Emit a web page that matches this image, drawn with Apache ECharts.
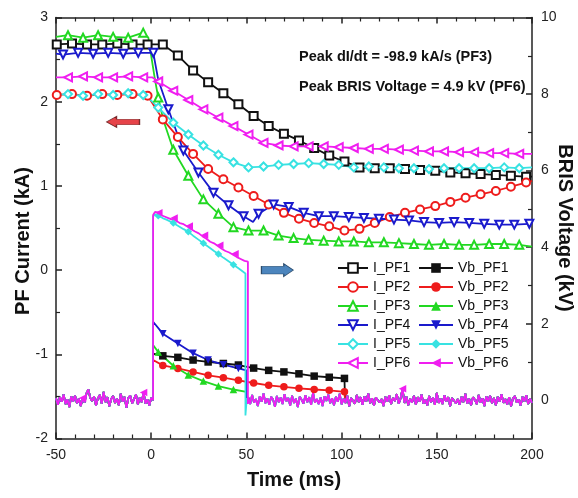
<!DOCTYPE html>
<html>
<head>
<meta charset="utf-8">
<script src="https://cdn.jsdelivr.net/npm/echarts@6/dist/echarts.min.js"></script>
<style>
  html, body { margin: 0; padding: 0; background: #fff; }
  #chart { width: 578px; height: 498px; }
</style>
</head>
<body>
<div id="chart"></div>
<script>
// ---- marker sample times (ms) ----
const tA = [-49.6, -41.6, -33.7, -25.7, -17.8, -9.8, -1.9, 6.1, 14.0, 22.0, 29.9, 37.9, 45.8, 53.8, 61.7, 69.7, 77.6, 85.6, 93.5, 101.5, 109.4, 117.4, 125.3, 133.3, 141.2, 149.2, 157.1, 165.1, 173.0, 181.0, 188.9, 196.9];
const tB = [-43.7, -35.8, -27.9, -20.0, -12.1, -4.2, 3.7, 11.6, 19.5, 27.4, 35.3, 43.2, 51.1, 59.0, 66.9, 74.8, 82.7, 90.6, 98.5, 106.4, 114.3, 122.2, 130.1, 138.0, 145.9, 153.8, 161.7, 169.6, 177.5, 185.4, 193.3];
const tC = [-46.3, -38.4, -30.5, -22.6, -14.7, -6.8, 1.1, 9.0, 16.9, 24.8, 32.7, 40.6, 48.5, 56.4, 64.3, 72.2, 80.1, 88.0, 95.9, 103.8, 111.7, 119.6, 127.5, 135.4, 143.3, 151.2, 159.1, 167.0, 174.9, 182.8, 190.7, 198.6];
const tMag = [4, 12, 20, 28, 36, 44];
const tMagBase = [-36, -4, 132];

// ---- PF coil currents (kA) : [time ms, current] ----
const iPF1 = [[-50,2.68],[-49.6,2.68],[-41.6,2.69],[-33.7,2.68],[-25.7,2.68],[-17.8,2.69],[-9.8,2.68],[-1.9,2.68],[6.1,2.68],[14.0,2.55],[22.0,2.37],[29.9,2.23],[37.9,2.10],[45.8,1.97],[53.8,1.83],[61.7,1.71],[69.7,1.62],[77.6,1.54],[85.6,1.45],[93.5,1.36],[101.5,1.29],[109.4,1.22],[117.4,1.21],[125.3,1.21],[133.3,1.20],[141.2,1.19],[149.2,1.18],[157.1,1.16],[165.1,1.15],[173.0,1.14],[181.0,1.13],[188.9,1.12],[196.9,1.11],[200,1.11]];
const iPF2 = [[-50,2.08],[-49.6,2.08],[-41.6,2.09],[-33.7,2.07],[-25.7,2.09],[-17.8,2.08],[-9.8,2.09],[-1.9,2.07],[6.1,1.79],[14.0,1.58],[22.0,1.38],[29.9,1.20],[37.9,1.08],[45.8,0.98],[53.8,0.88],[61.7,0.78],[69.7,0.68],[77.6,0.61],[85.6,0.56],[93.5,0.52],[101.5,0.47],[109.4,0.49],[117.4,0.56],[125.3,0.63],[133.3,0.68],[141.2,0.72],[149.2,0.76],[157.1,0.81],[165.1,0.86],[173.0,0.90],[181.0,0.94],[188.9,0.99],[196.9,1.04],[200,1.06]];
const iPF3 = [[-50,2.77],[-43.7,2.79],[-35.8,2.76],[-27.9,2.79],[-20.0,2.77],[-12.1,2.76],[-4.2,2.82],[-1.5,2.76],[2.0,2.26],[3.7,2.05],[6.4,1.78],[11.6,1.43],[19.5,1.12],[27.4,0.84],[35.3,0.67],[43.2,0.51],[51.1,0.47],[59.0,0.47],[66.9,0.41],[74.8,0.38],[82.7,0.36],[90.6,0.35],[98.5,0.34],[106.4,0.34],[114.3,0.33],[122.2,0.33],[130.1,0.32],[138.0,0.31],[145.9,0.30],[153.8,0.31],[161.7,0.30],[169.6,0.30],[177.5,0.31],[185.4,0.31],[193.3,0.30],[200,0.28]];
const iPF4 = [[-50,2.57],[-46.3,2.56],[-38.4,2.58],[-30.5,2.57],[-22.6,2.58],[-14.7,2.57],[-6.8,2.58],[1.1,2.58],[3.7,2.26],[9.0,1.91],[16.9,1.42],[24.8,1.16],[32.7,0.92],[40.6,0.77],[48.5,0.64],[53.5,0.57],[56.4,0.67],[64.3,0.78],[72.2,0.75],[80.1,0.68],[88.0,0.64],[95.9,0.64],[103.8,0.63],[111.7,0.62],[119.6,0.61],[127.5,0.60],[135.4,0.59],[143.3,0.57],[151.2,0.56],[159.1,0.57],[167.0,0.56],[174.9,0.55],[182.8,0.54],[190.7,0.54],[198.6,0.55],[200,0.55]];
const iPF5 = [[-50,2.08],[-43.7,2.09],[-35.8,2.07],[-27.9,2.09],[-20.0,2.08],[-12.1,2.10],[-4.2,2.08],[-3.0,2.08],[3.7,1.93],[11.6,1.75],[19.5,1.61],[27.4,1.48],[35.3,1.37],[43.2,1.28],[51.1,1.22],[59.0,1.23],[66.9,1.25],[74.8,1.26],[82.7,1.27],[90.6,1.26],[98.5,1.25],[106.4,1.22],[114.3,1.23],[122.2,1.22],[130.1,1.21],[138.0,1.21],[145.9,1.20],[153.8,1.21],[161.7,1.21],[169.6,1.21],[177.5,1.21],[185.4,1.22],[193.3,1.21],[200,1.22]];
const iPF6 = [[-50,2.29],[-43.7,2.29],[-35.8,2.30],[-27.9,2.29],[-20.0,2.29],[-12.1,2.30],[-4.2,2.29],[0.5,2.29],[3.7,2.24],[11.6,2.13],[19.5,2.02],[27.4,1.91],[35.3,1.81],[43.2,1.71],[51.1,1.61],[59.0,1.51],[66.9,1.48],[74.8,1.47],[82.7,1.47],[90.6,1.47],[98.5,1.46],[106.4,1.45],[114.3,1.44],[122.2,1.44],[130.1,1.43],[138.0,1.42],[145.9,1.41],[153.8,1.41],[161.7,1.40],[169.6,1.40],[177.5,1.39],[185.4,1.39],[193.3,1.38],[200,1.38]];

// ---- BRIS voltage baseline (kV), 1 ms steps: -50..0 and 51..200 ----
const noisePre = [0.05,-0.12,0.08,-0.04,0.15,-0.10,0.02,-0.18,0.10,-0.03,
  0.12,-0.08,0.04,-0.15,0.06,-0.06,0.18,0.28,0.06,-0.02,
  0.10,-0.14,0.05,0.14,-0.09,0.22,-0.05,0.08,-0.16,0.03,
  0.11,-0.07,0.04,-0.13,0.17,-0.04,0.09,-0.20,0.06,0.12,
  -0.08,0.03,0.15,-0.11,0.07,-0.05,0.20,-0.09,0.02,-0.14,
  0.06];
const noisePost = [0.08,-0.10,0.14,-0.06,0.03,-0.15,0.10,-0.04,0.18,-0.08,
  0.05,-0.12,0.09,0.02,-0.17,0.11,-0.05,0.07,-0.10,0.16,
  -0.03,0.06,-0.14,0.12,-0.07,0.04,-0.18,0.09,0.01,-0.09,
  0.13,-0.05,0.08,-0.12,0.20,-0.06,0.03,-0.10,0.07,-0.15,
  0.10,-0.02,0.15,-0.08,0.05,-0.13,0.09,-0.04,0.17,-0.11,
  0.04,-0.07,0.12,-0.16,0.06,0.02,-0.09,0.14,-0.05,0.08,
  -0.12,0.10,-0.03,0.18,-0.08,0.05,-0.14,0.07,0.11,-0.06,
  0.03,-0.15,0.09,-0.04,0.13,-0.10,0.06,-0.02,0.16,-0.09,
  0.05,0.30,-0.07,0.10,-0.13,0.04,-0.06,0.12,-0.11,0.08,
  -0.04,0.15,-0.09,0.02,-0.14,0.11,-0.05,0.07,-0.12,0.19,
  -0.07,0.04,-0.10,0.13,-0.03,0.08,-0.16,0.06,0.10,-0.08,
  0.03,-0.12,0.09,-0.05,0.17,-0.09,0.04,-0.13,0.08,0.01,
  -0.10,0.14,-0.06,0.05,-0.15,0.10,-0.03,0.12,-0.08,0.06,
  -0.13,0.09,-0.04,0.16,-0.07,0.03,-0.11,0.08,-0.16,0.05,
  0.11,-0.06,0.02,-0.14,0.09,-0.03,0.13,-0.10,0.04,-0.07];

// ---- BRIS voltage during the pulse (kV) : [time ms, voltage] ----
const vbPF1 = [[1.0,0.0],[1.0,1.22],[6.1,1.16],[14.0,1.12],[22.0,1.05],[29.9,1.00],[37.9,0.96],[45.8,0.92],[53.8,0.84],[61.7,0.78],[69.7,0.74],[77.6,0.69],[85.6,0.63],[93.5,0.60],[101.5,0.57],[101.8,0.56],[101.8,0.0]];
const vbPF2 = [[1.0,0.0],[1.0,1.05],[6.1,0.91],[14.0,0.83],[22.0,0.74],[29.9,0.65],[37.9,0.59],[45.8,0.52],[53.8,0.45],[61.7,0.39],[69.7,0.35],[77.6,0.31],[85.6,0.28],[93.5,0.26],[101.5,0.22],[101.8,0.22],[101.8,0.0]];
const vbPF3 = [[1.0,0.0],[1.0,1.44],[3.7,1.26],[11.6,0.90],[19.5,0.66],[27.4,0.50],[35.3,0.37],[43.2,0.28],[50.0,0.22],[50.0,0.0]];
const vbPF4 = [[1.0,0.0],[1.0,2.05],[6.1,1.74],[14.0,1.48],[22.0,1.23],[29.9,1.05],[37.9,0.93],[45.8,0.83],[50.0,0.78],[50.0,0.0]];
const vbPF5 = [[1.0,0.0],[1.0,4.80],[2.0,4.86],[3.7,4.82],[6.0,4.76],[8.0,4.72],[11.6,4.63],[14.0,4.56],[17.0,4.47],[19.5,4.40],[22.0,4.30],[25.0,4.19],[27.4,4.10],[30.0,4.01],[33.0,3.90],[35.3,3.82],[38.0,3.72],[41.0,3.62],[43.2,3.54],[46.0,3.44],[49.5,3.31],[49.5,-0.40],[50.2,0.05]];
const vbPF6 = [[1.0,0.0],[1.0,4.84],[2,4.92],[3,4.87],[4,4.90],[5,4.84],[6,4.86],[7,4.80],[8,4.83],[9,4.76],[10,4.77],
  [11,4.72],[12,4.76],[13,4.69],[14,4.70],[15,4.63],[16,4.67],[17,4.60],[18,4.62],[19,4.54],[20,4.55],
  [21,4.47],[22,4.50],[23,4.41],[24,4.44],[25,4.36],[26,4.37],[27,4.28],[28,4.31],[29,4.22],[30,4.24],
  [31,4.14],[32,4.18],[33,4.10],[34,4.12],[35,4.03],[36,4.05],[37,3.96],[38,3.99],[39,3.90],[40,3.93],
  [41,3.86],[42,3.88],[43,3.80],[44,3.83],[45,3.74],[46,3.77],[47,3.69],[48,3.72],[49,3.64],[50,3.67],
  [50.8,3.62],[50.8,-0.10]];

const names = ['PF1', 'PF2', 'PF3', 'PF4', 'PF5', 'PF6'];
const colors = ['#111111', '#ee1c1c', '#22d822', '#1a1acc', '#38e2e2', '#f01ef0'];

// a point gets a marker only if its time is one of the marker times
function withMarks(points, marks) {
  return points.map(p => marks.indexOf(p[0]) >= 0 ? p : { value: p, symbol: 'none' });
}

// baseline before the pulse, the pulse itself, baseline after switch-off
function voltageTrace(pulse, marks, baseMarks) {
  const pre = noisePre.map((v, i) => [-50 + i, v]);
  const cut = pulse[pulse.length - 1][0];
  const post = noisePost.map((v, i) => [51 + i, v]).filter(p => p[0] > cut);
  return withMarks(pre, baseMarks).concat(withMarks(pulse, marks), withMarks(post, baseMarks));
}

const currentDefs = [
  { data: iPF1, marks: tA, symbol: 'emptyRect', rot: 0 },
  { data: iPF2, marks: tA, symbol: 'emptyCircle', rot: 0 },
  { data: iPF3, marks: tB, symbol: 'emptyTriangle', rot: 0 },
  { data: iPF4, marks: tC, symbol: 'emptyTriangle', rot: 180 },
  { data: iPF5, marks: tB, symbol: 'emptyDiamond', rot: 0 },
  { data: iPF6, marks: tB, symbol: 'emptyTriangle', rot: 90 }
];
const voltageDefs = [
  { data: vbPF1, marks: tA, base: [], symbol: 'rect', rot: 0 },
  { data: vbPF2, marks: tA, base: [], symbol: 'circle', rot: 0 },
  { data: vbPF3, marks: tB, base: [], symbol: 'triangle', rot: 0 },
  { data: vbPF4, marks: tA, base: [], symbol: 'triangle', rot: 180 },
  { data: vbPF5, marks: tB, base: [], symbol: 'diamond', rot: 0 },
  { data: vbPF6, marks: tMag, base: tMagBase, symbol: 'triangle', rot: 90 }
];

const series = [];
currentDefs.forEach((d, i) => {
  series.push({
    name: 'I_' + names[i], type: 'line', xAxisIndex: 0, yAxisIndex: 0,
    data: withMarks(d.data, d.marks),
    symbol: d.symbol, symbolRotate: d.rot, symbolSize: 8, showAllSymbol: true,
    color: colors[i],
    lineStyle: { width: 1.8, color: colors[i] },
    itemStyle: { color: colors[i], borderWidth: 1.1 },
    z: 3
  });
});
voltageDefs.forEach((d, i) => {
  series.push({
    name: 'Vb_' + names[i], type: 'line', xAxisIndex: 0, yAxisIndex: 1,
    data: voltageTrace(d.data, d.marks, d.base),
    symbol: d.symbol, symbolRotate: d.rot, symbolSize: 7.5, showAllSymbol: true,
    color: colors[i],
    lineStyle: { width: 1.8, color: colors[i] },
    itemStyle: { color: colors[i] },
    z: 4
  });
});

// direction arrows: red points at the current axis, blue at the voltage axis
const arrowLeft = [[-14.8, 1.76]];
const arrowRight = [[66.3, 0.0]];
series.push({
  type: 'scatter', xAxisIndex: 0, yAxisIndex: 0, data: arrowLeft, silent: true,
  symbol: 'path://M0,6 L10,0 L10,3 L33,3 L33,9 L10,9 L10,12 Z', symbolSize: [33, 11],
  itemStyle: { color: '#e0141c', borderColor: '#5a1010', borderWidth: 0.8 }, z: 5
});
series.push({
  type: 'scatter', xAxisIndex: 0, yAxisIndex: 0, data: arrowRight, silent: true,
  symbol: 'path://M33,6 L23,0 L23,2.5 L0,2.5 L0,9.5 L23,9.5 L23,12 Z', symbolSize: [32, 13],
  itemStyle: { color: '#1f66ad', borderColor: '#10304f', borderWidth: 0.8 }, z: 5
});

const axisColor = '#222';
const tickFont = { fontSize: 14, color: '#222', fontFamily: 'Liberation Sans, Arial, sans-serif' };
const titleFont = { fontSize: 20, fontWeight: 'bold', color: '#111', fontFamily: 'Liberation Sans, Arial, sans-serif' };

const timeAxisBase = {
  type: 'value', min: -50, max: 200, interval: 50,
  axisLine: { onZero: false, lineStyle: { color: axisColor, width: 1.5 } },
  axisTick: { inside: true, length: 6, lineStyle: { color: axisColor, width: 1.5 } },
  minorTick: { show: true, splitNumber: 5, length: 4, lineStyle: { color: axisColor, width: 1.2 } },
  splitLine: { show: false }
};

const option = {
  animation: false,
  backgroundColor: '#fff',
  grid: { left: 56, right: 46, top: 17.5, bottom: 59.5, outerBoundsMode: 'none', containLabel: false },
  xAxis: [
    Object.assign({}, timeAxisBase, {
      position: 'bottom',
      axisLabel: Object.assign({ margin: 10 }, tickFont),
      name: 'Time (ms)', nameLocation: 'middle', nameGap: 32, nameMoveOverlap: false,
      nameTextStyle: titleFont
    }),
    Object.assign({}, timeAxisBase, { position: 'top', axisLabel: { show: false } })
  ],
  yAxis: [
    {
      type: 'value', min: -2, max: 3, interval: 1, position: 'left',
      axisLine: { onZero: false, lineStyle: { color: axisColor, width: 1.5 } },
      axisTick: { inside: true, length: 6, lineStyle: { color: axisColor, width: 1.5 } },
      minorTick: { show: true, splitNumber: 2, length: 4, lineStyle: { color: axisColor, width: 1.2 } },
      splitLine: { show: false },
      axisLabel: Object.assign({ margin: 8 }, tickFont),
      name: 'PF Current (kA)', nameLocation: 'middle', nameRotate: 90, nameGap: 23, nameMoveOverlap: false,
      nameTextStyle: Object.assign({ padding: [0, 26, 0, 0] }, titleFont)
    },
    {
      type: 'value', min: -1, max: 10, position: 'right',
      axisLine: { onZero: false, lineStyle: { color: axisColor, width: 1.5 } },
      axisTick: { inside: true, length: 6, customValues: [0, 2, 4, 6, 8, 10], lineStyle: { color: axisColor, width: 1.5 } },
      splitLine: { show: false },
      axisLabel: Object.assign({ margin: 9, customValues: [0, 2, 4, 6, 8, 10] }, tickFont),
      name: 'BRIS Voltage (kV)', nameLocation: 'middle', nameRotate: -90, nameGap: 23, nameMoveOverlap: false,
      nameTextStyle: titleFont
    },
    {
      type: 'value', min: -1, max: 10, position: 'right',
      axisLine: { show: false, onZero: false },
      axisTick: { inside: true, length: 4, customValues: [1, 3, 5, 7, 9], lineStyle: { color: axisColor, width: 1.2 } },
      axisLabel: { show: false },
      splitLine: { show: false }
    }
  ],
  legend: [
    {
      data: names.map(n => 'I_' + n), orient: 'vertical', left: 332, top: 256,
      itemWidth: 30, itemHeight: 12, itemGap: 5, selectedMode: false,
      textStyle: { fontSize: 14, color: '#111', lineHeight: 14, fontFamily: 'Liberation Sans, Arial, sans-serif' }
    },
    {
      data: names.map(n => 'Vb_' + n), orient: 'vertical', left: 413, top: 256,
      itemWidth: 34, itemHeight: 12, itemGap: 5, selectedMode: false,
      textStyle: { fontSize: 14, color: '#111', lineHeight: 14, fontFamily: 'Liberation Sans, Arial, sans-serif' }
    }
  ],
  graphic: [
    { type: 'text', left: 299, top: 49, style: { text: 'Peak dI/dt = -98.9 kA/s (PF3)', font: 'bold 14.5px "Liberation Sans", Arial, sans-serif', fill: '#111' } },
    { type: 'text', left: 299, top: 79, style: { text: 'Peak BRIS Voltage = 4.9 kV (PF6)', font: 'bold 14.5px "Liberation Sans", Arial, sans-serif', fill: '#111' } }
  ],
  series: series
};

const chart = echarts.init(document.getElementById('chart'), null, { renderer: 'canvas' });
chart.setOption(option);
</script>
</body>
</html>
